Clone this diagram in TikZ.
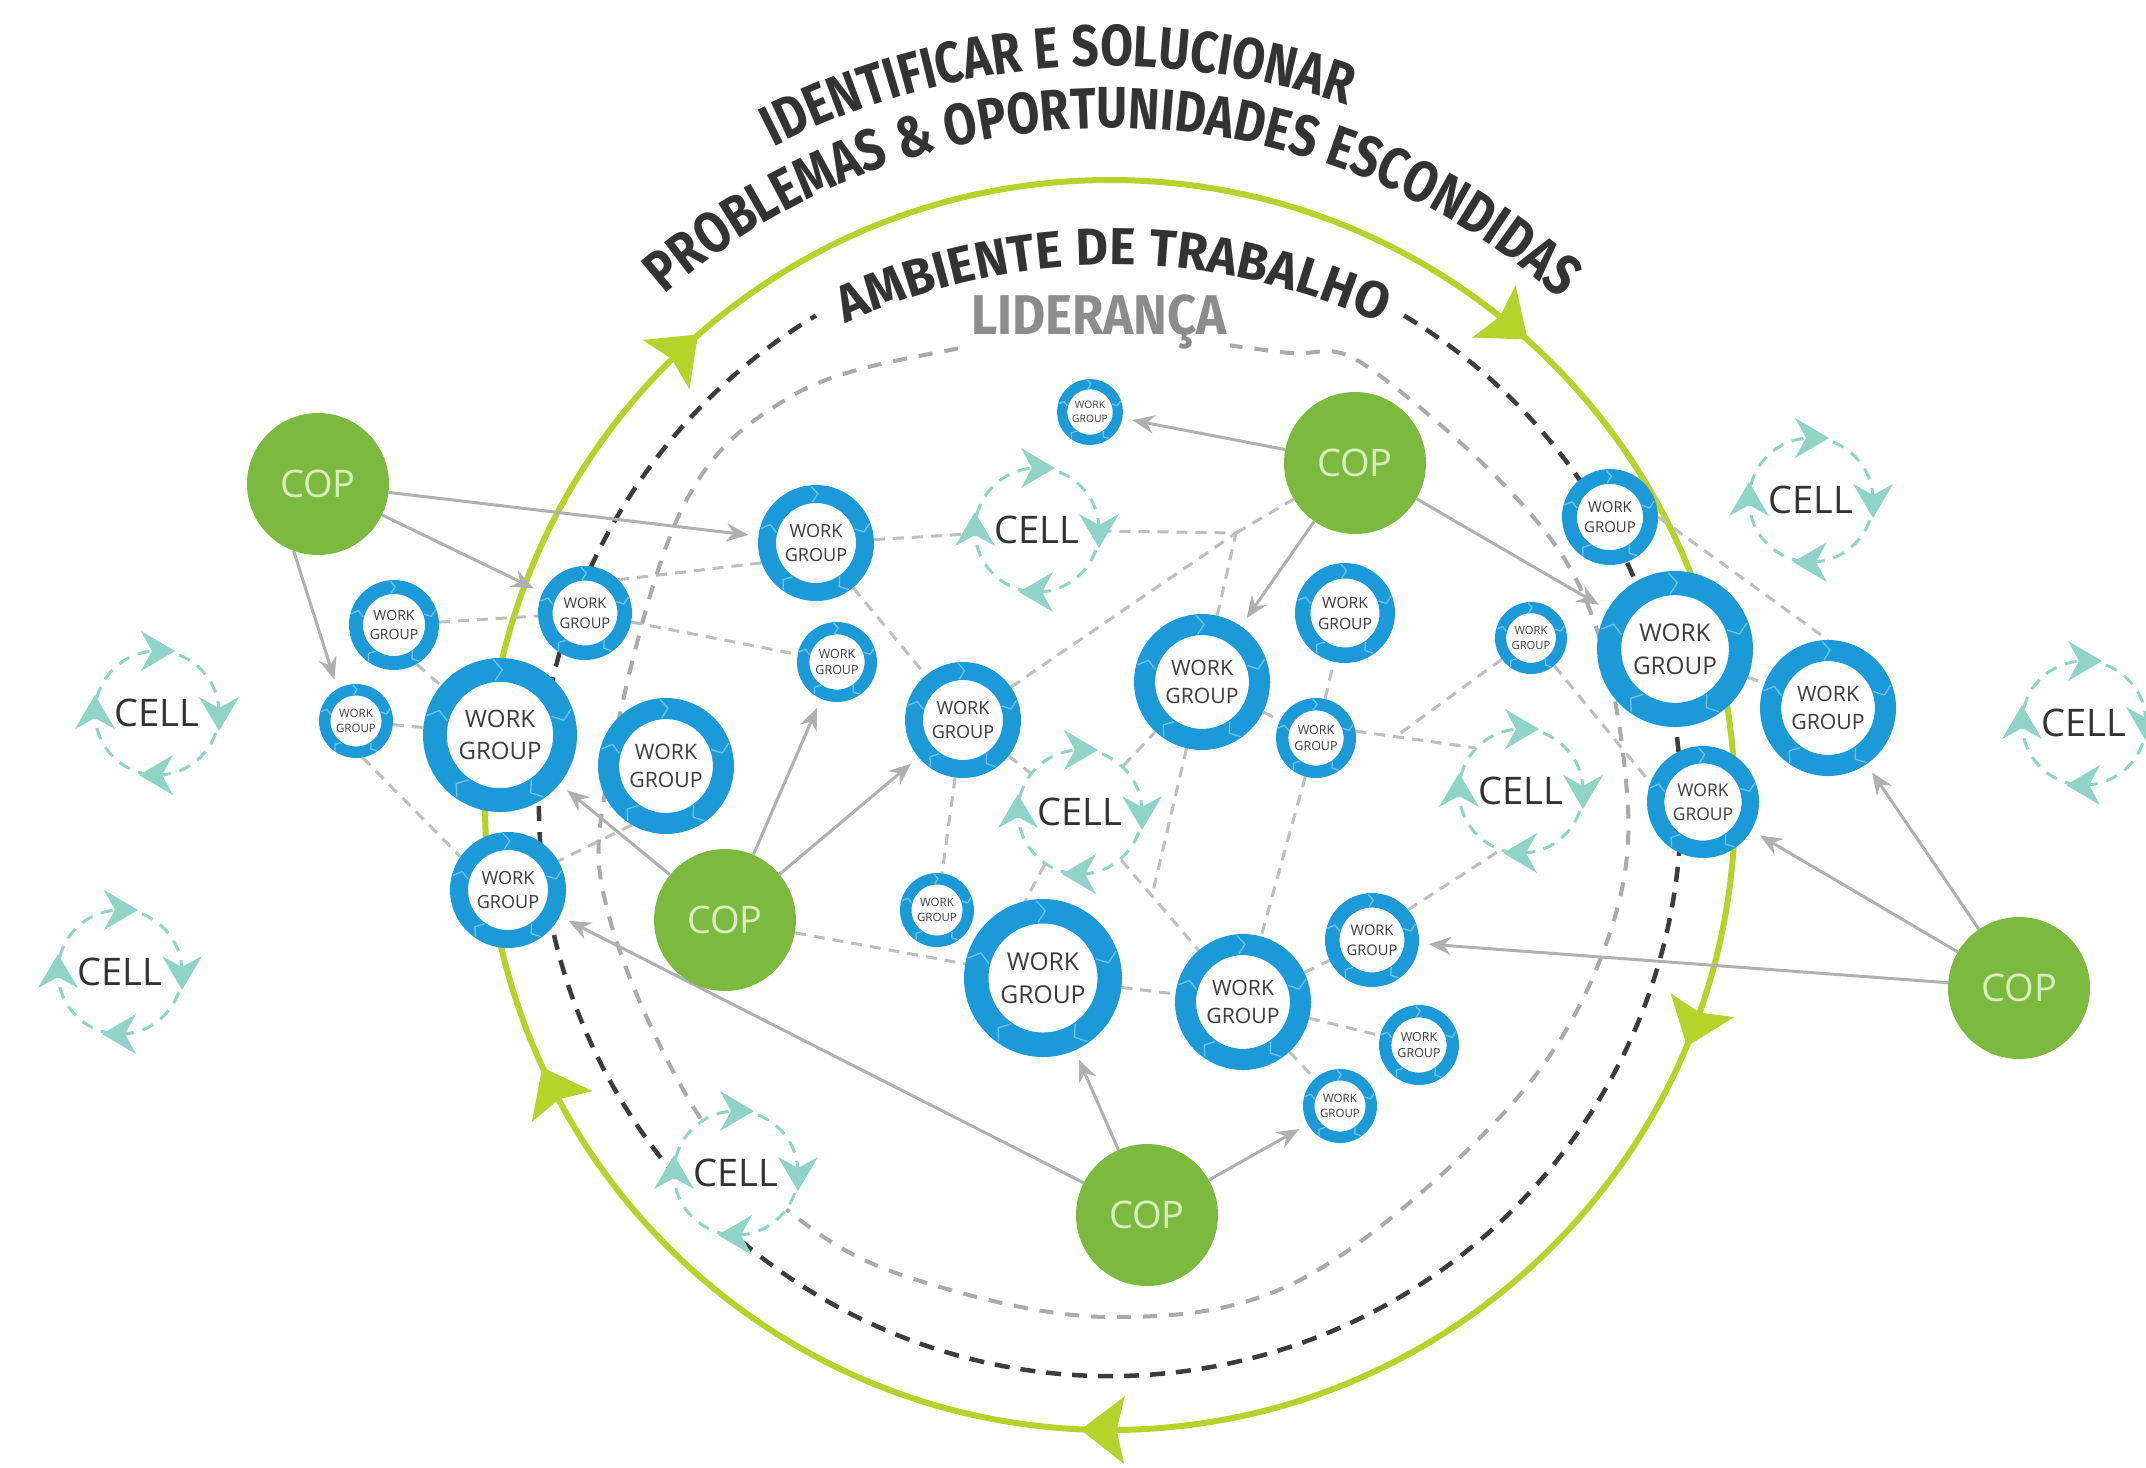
\documentclass[tikz,border=0pt]{standalone}
\usepackage{fontspec}
\setmainfont{Open Sans}
\newfontfamily\titlef{Fira Sans}
\newfontfamily\labelf{Open Sans}
\usetikzlibrary{calc,arrows.meta}

\definecolor{copgreen}{RGB}{124,186,63}
\definecolor{coptext}{RGB}{214,239,190}
\definecolor{wgblue}{RGB}{27,154,215}
\definecolor{wgseamc}{RGB}{110,196,238}
\definecolor{cellteal}{RGB}{143,212,199}
\definecolor{ringgreen}{RGB}{182,211,44}
\definecolor{envdash}{RGB}{60,60,60}
\definecolor{leaddash}{RGB}{170,170,170}
\definecolor{linkgray}{RGB}{190,190,190}
\definecolor{arrowgray}{RGB}{176,176,176}
\definecolor{titlec}{RGB}{51,51,51}
\definecolor{leadtext}{RGB}{140,140,140}
\definecolor{labeltext}{RGB}{60,60,60}

\pgfdeclarelayer{paper}
\pgfdeclarelayer{rings}
\pgfdeclarelayer{links}
\pgfsetlayers{paper,rings,links,main}

\tikzset{
  cop/.style={circle, fill=copgreen, minimum size=142pt, inner sep=0pt,
    text=coptext, font=\labelf\fontsize{38}{40}\selectfont},
  wg/.style={circle, draw=wgblue, fill=white, inner sep=0pt},
  wgtext/.style={align=center, inner sep=0pt, text=labeltext,
    font=\labelf\fontsize{24}{32.5}\selectfont},
  seam/.style={draw=wgseamc, line width=1.3pt, line join=round},
  cellring/.style={circle, draw=cellteal, fill=white, line width=3pt,
    dash pattern=on 12pt off 9pt, minimum size=124pt, inner sep=0pt,
    text=titlec, font=\labelf\fontsize{38}{40}\selectfont},
  linkline/.style={draw=linkgray, line width=3pt, dash pattern=on 11pt off 8pt},
  feed/.style={draw=arrowgray, line width=3pt, -{Stealth[length=22pt,width=18pt]}, shorten >=10pt},
  cellhead/.pic={\fill[cellteal] (18,0) -- (-16,20) -- (-5,0) -- (-16,-20) -- cycle;},
  ringhead/.pic={\fill[ringgreen] (24,0) -- (-20,34) -- (-12,0) -- (-20,-34) -- cycle;},
}

% community of practice
\newcommand\copnode[3]{\node[cop] (#1) at (#2,-#3) {COP};}
% work group ring: name, x, y (from top), outer radius
\newcommand\wgnode[4]{%
  \node[wg, minimum size={1.69*#4pt}, line width={0.31*#4pt}] (#1) at (#2,-#3) {};
  \node[wgtext, scale={#4/77}] at (#1) {WORK\\GROUP};
  \foreach \a in {20,95,165,235,305}
    \draw[seam] ($(#1)+(\a:{0.71*#4})$) -- ($(#1)+({\a-7}:{0.85*#4})$) -- ($(#1)+(\a:{0.98*#4})$);
}
% cell with its clockwise arrowheads
\newcommand\cellnode[3]{%
  \node[cellring] (#1) at (#2,-#3) {CELL};
  \foreach \a in {0,90,180,270}
    \pic[rotate=\a-90] at ($(#1)+(\a:62)$) {cellhead};
}
\newcommand\ringarrow[1]{\pic[rotate=#1-90] at ($(O)+(#1:625)$) {ringhead};}

% lettering set along a circle: the angle of every letter is worked out first,
% then the letters are placed inside the picture
\newdimen\arccw
\newcommand\arcfontat[1]{\titlef\bfseries\fontsize{#1}{#1}\selectfont}
\newcommand\arcprep[6]{% list macro, centre angle, baseline radius, font size, x scale, letters
  \gdef\arctotal{0}%
  \foreach \ch in {#6} {%
    \ifx\ch\empty \arccw=0.26\dimexpr #4pt\relax \else \setbox0=\hbox{\arcfontat{#4}\ch}\arccw=\wd0 \fi
    \pgfmathsetmacro\nt{\arctotal+#5*\arccw}%
    \xdef\arctotal{\nt}%
  }%
  \gdef\arcpos{0}\gdef#1{}%
  \foreach \ch in {#6} {%
    \ifx\ch\empty \arccw=0.26\dimexpr #4pt\relax \else \setbox0=\hbox{\arcfontat{#4}\ch}\arccw=\wd0 \fi
    \pgfmathsetmacro\cw{#5*\arccw}%
    \pgfmathsetmacro\ang{#2+(\arctotal/2-\arcpos-\cw/2)/(#3)*180/pi}%
    \ifx\ch\empty\else
      \xdef#1{\ifx#1\empty\else\unexpanded\expandafter{#1},\fi\ang/\expandafter\unexpanded\expandafter{\ch}}%
    \fi
    \pgfmathsetmacro\np{\arcpos+\cw}%
    \xdef\arcpos{\np}%
  }%
}
\newcommand\arcdraw[5]{% list macro, centre point, baseline radius, font size, x scale
  \foreach \ang/\ch in #1
    \node[anchor=base, inner sep=0pt, text=titlec, font=\arcfontat{#4},
      rotate=\ang-90, xscale=#5] at ($(#2)+(\ang:#3)$) {\ch};
}

\begin{document}
\arcprep{\arcsolve}{94.2}{739}{58}{0.82}{I,D,E,N,T,I,F,I,C,A,R,{},E,{},S,O,L,U,C,I,O,N,A,R}%
\arcprep{\archidden}{89.7}{677}{58}{0.82}{P,R,O,B,L,E,M,A,S,{},\&,{},O,P,O,R,T,U,N,I,D,A,D,E,S,{},E,S,C,O,N,D,I,D,A,S}%
\arcprep{\arcwork}{90}{640}{52}{0.96}{A,M,B,I,E,N,T,E,{},D,E,{},T,R,A,B,A,L,H,O}%
\begin{tikzpicture}[x=1pt,y=1pt]
\useasboundingbox (0,0) rectangle (2146,-1467);
\begin{pgfonlayer}{paper}
  \fill[white] (0,0) rectangle (2146,-1467);
\end{pgfonlayer}
\coordinate (O) at (1110,-805);
\coordinate (Ow) at (1113,-905);

% concentric rings
\begin{pgfonlayer}{rings}
  \draw[ringgreen, line width=6pt] (O) circle[radius=625];
  \draw[envdash, line width=4.5pt, dash pattern=on 15pt off 11pt]
    ($(O)+(59:571)$) arc[start angle=59, end angle=-239, radius=571];
  \draw[leaddash, line width=4pt, dash pattern=on 14pt off 12pt]
    plot[smooth cycle, tension=0.6] coordinates {
      (1100,-335) (1280,-352) (1375,-372) (1567,-563) (1627,-793) (1600,-960)
      (1500,-1117) (1300,-1280) (1110,-1317) (917,-1280) (800,-1220) (697,-1113)
      (610,-920) (607,-780) (680,-513) (790,-397) (950,-350)};
\end{pgfonlayer}

\ringarrow{133.4}
\ringarrow{50.3}
\ringarrow{-20.5}
\ringarrow{-90.5}
\ringarrow{207}

% titles
\arcdraw{\arcsolve}{O}{739}{58}{0.82}
\arcdraw{\archidden}{O}{677}{58}{0.82}
\arcdraw{\arcwork}{Ow}{640}{52}{0.96}
\node[font=\titlef\bfseries\fontsize{56}{60}\selectfont, xscale=0.91, text=leadtext,
  fill=white, inner sep=3pt] (lid) at (1099,-322) {LIDERANÇA};

% communities of practice
\copnode{P1}{318}{484}
\copnode{P2}{1355}{463}
\copnode{P3}{725}{920}
\copnode{P4}{1147}{1215}
\copnode{P5}{2019}{988}

% work groups
\wgnode{wa}{1090}{412}{33}
\wgnode{wb}{816}{543}{58}
\wgnode{wc}{585}{613}{47}
\wgnode{wd}{394}{625}{45}
\wgnode{we}{837}{662}{40}
\wgnode{wf}{356}{721}{37}
\wgnode{wg}{500}{735}{77}
\wgnode{wh}{666}{766}{68}
\wgnode{wi}{963}{720}{58}
\wgnode{wj}{1202}{682}{68}
\wgnode{wk}{1345}{613}{50}
\wgnode{wl}{1316}{738}{40}
\wgnode{wm}{1610}{517}{48}
\wgnode{wn}{1531}{638}{36}
\wgnode{wo}{1675}{649}{78}
\wgnode{wp}{1828}{708}{68}
\wgnode{wq}{1703}{802}{56}
\wgnode{wr}{508}{890}{58}
\wgnode{ws}{937}{910}{37}
\wgnode{wt}{1043}{978}{79}
\wgnode{wu}{1243}{1002}{68}
\wgnode{wv}{1372}{940}{47}
\wgnode{ww}{1419}{1045}{40}
\wgnode{wx}{1340}{1106}{37}

% cells
\cellnode{C1}{1037}{530}
\cellnode{C2}{1080}{812}
\cellnode{C3}{1521}{791}
\cellnode{C4}{1811}{500}
\cellnode{C5}{2084}{723}
\cellnode{C6}{157}{713}
\cellnode{C7}{120}{972}
\cellnode{C8}{736}{1173}

% meeting points of the dashed links
\coordinate (J) at (1236,-533);
\coordinate (K) at (1152,-896);
\coordinate (L) at (1395,-737);

\begin{pgfonlayer}{links}
  % dashed links
  \draw[linkline] (wb) -- (C1);
  \draw[linkline] (C1) -- (J);
  \draw[linkline] (J) -- (P2);
  \draw[linkline] (wi) -- (J);
  \draw[linkline] (wj) -- (J);
  \draw[linkline] (wc.45) -- (wb.200);
  \draw[linkline] (wc) -- (we);
  \draw[linkline] (wd) -- (wc);
  \draw[linkline] (wd.-60) -- (wg.140);
  \draw[linkline] (wf) -- (wg);
  \draw[linkline] (wf.-80) -- (wr.145);
  \draw[linkline] (wh.240) -- (wr.30);
  \draw[linkline] (P3) -- (wt);
  \draw[linkline] (wb) -- (wi);
  \draw[linkline] (wi) -- (ws);
  \draw[linkline] (wi) -- (C2);
  \draw[linkline] (C2) -- (wj);
  \draw[linkline] (wj) -- (K);
  \draw[linkline] (C2) -- (wu);
  \draw[linkline] (C2.236) -- (wt.103);
  \draw[linkline] (wl) -- (wu);
  \draw[linkline] (wj) -- (wl);
  \draw[linkline] (wl) -- (wk);
  \draw[linkline] (wl.10) -- (C3.137);
  \draw[linkline] (wn) -- (L);
  \draw[linkline] (wv.40) -- (C3.250);
  \draw[linkline] (wu) -- (wv);
  \draw[linkline] (wt) -- (wu);
  \draw[linkline] (wu) -- (ww);
  \draw[linkline] (wu) -- (wx);
  \draw[linkline] (wn.-50) -- (wq.160);
  \draw[linkline] (wm.east) -- (wp.north);
  \draw[linkline] (wo) -- (wp);
  % solid feeds from the communities of practice
  \draw[feed] (P1) -- (wb);
  \draw[feed] (P1) -- (wc);
  \draw[feed] (P1.250) -- (wf.120);
  \draw[feed] (P2) -- (wa);
  \draw[feed] (P2) -- (wj);
  \draw[feed] (P2) -- (wo);
  \draw[feed] (P3) -- (we);
  \draw[feed] (P3) -- (wi);
  \draw[feed] (P3) -- (wg);
  \draw[feed] (P4) -- (wt);
  \draw[feed] (P4) -- (wx);
  \draw[feed] (P4) -- (wr);
  \draw[feed] (P5) -- (wv);
  \draw[feed] (P5) -- (wq);
  \draw[feed] (P5) -- (wp);
\end{pgfonlayer}
\end{tikzpicture}
\end{document}
